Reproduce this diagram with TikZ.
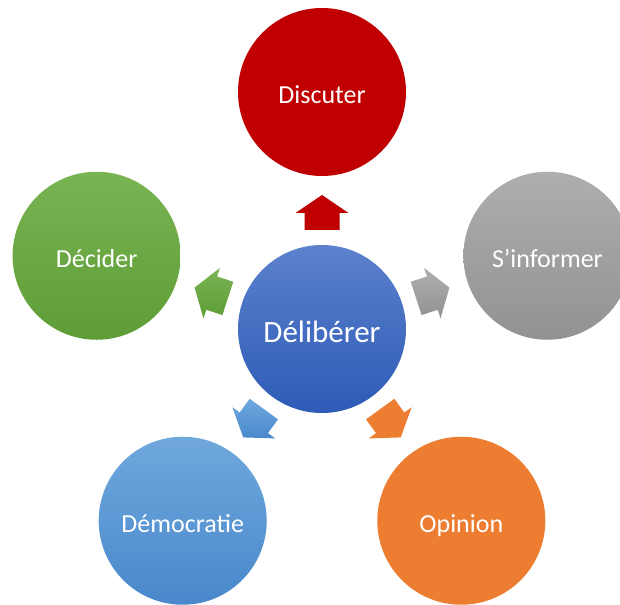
\documentclass[tikz,border=0pt]{standalone}
\usepackage{fontspec}
\setmainfont{Carlito}
\usetikzlibrary{calc}
\definecolor{bluetop}{HTML}{5C81CD}
\definecolor{bluebot}{HTML}{2D5BB6}
\definecolor{redc}{HTML}{C00000}
\definecolor{graytop}{HTML}{AEAEAE}
\definecolor{graybot}{HTML}{929292}
\definecolor{greentop}{HTML}{79B453}
\definecolor{greenbot}{HTML}{5E9D36}
\definecolor{lbluetop}{HTML}{70A8DD}
\definecolor{lbluebot}{HTML}{4888CB}
\definecolor{orangec}{HTML}{ED7D31}
\tikzset{
  bubble/.style={circle, minimum size=168pt, inner sep=0pt, text=white,
    text height=24.5pt, text depth=1.5pt,
    font=\fontsize{26}{30}\selectfont},
  hub/.style={bubble, text height=29.5pt, text depth=1.5pt,
    font=\fontsize{31}{36}\selectfont},
}
\newcommand{\blockarrowpath}{(99,-17.5) -- (116,-17.5) -- (116,-26.5) -- (134,0) -- (116,26.5) -- (116,17.5) -- (99,17.5) -- cycle}
\begin{document}
\begin{tikzpicture}[x=1pt,y=1pt]
\useasboundingbox (0,0) rectangle (620,604);
\clip (0,0) rectangle (620,604);
\fill[white] (0,0) rectangle (620,604);
\coordinate (C) at (322,275);
% outer circles
\node[bubble, fill=redc] (discuter) at ($(C)+(90:237)$) {Discuter};
\node[bubble, top color=graytop, bottom color=graybot] (informer) at ($(C)+(18:237)$) {S’informer};
\node[bubble, top color=greentop, bottom color=greenbot] (decider) at ($(C)+(162:237)$) {Décider};
\node[bubble, top color=lbluetop, bottom color=lbluebot] (democratie) at ($(C)+(234:237)$) {Démocratie};
\node[bubble, fill=orangec] (opinion) at ($(C)+(306:237)$) {Opinion};
% hub
\node[hub, top color=bluetop, bottom color=bluebot] (deliberer) at (C) {Délibérer};
% block arrows
\begin{scope}[shift={(C)}, rotate=90]
  \fill[redc] \blockarrowpath;
\end{scope}
\begin{scope}[shift={(C)}, rotate=18]
  \shade[top color=graytop, bottom color=graybot] \blockarrowpath;
\end{scope}
\begin{scope}[shift={(C)}, rotate=162]
  \shade[top color=greentop, bottom color=greenbot] \blockarrowpath;
\end{scope}
\begin{scope}[shift={(C)}, rotate=234]
  \shade[top color=lbluetop, bottom color=lbluebot] \blockarrowpath;
\end{scope}
\begin{scope}[shift={(C)}, rotate=306]
  \fill[orangec] \blockarrowpath;
\end{scope}
\end{tikzpicture}
\end{document}
